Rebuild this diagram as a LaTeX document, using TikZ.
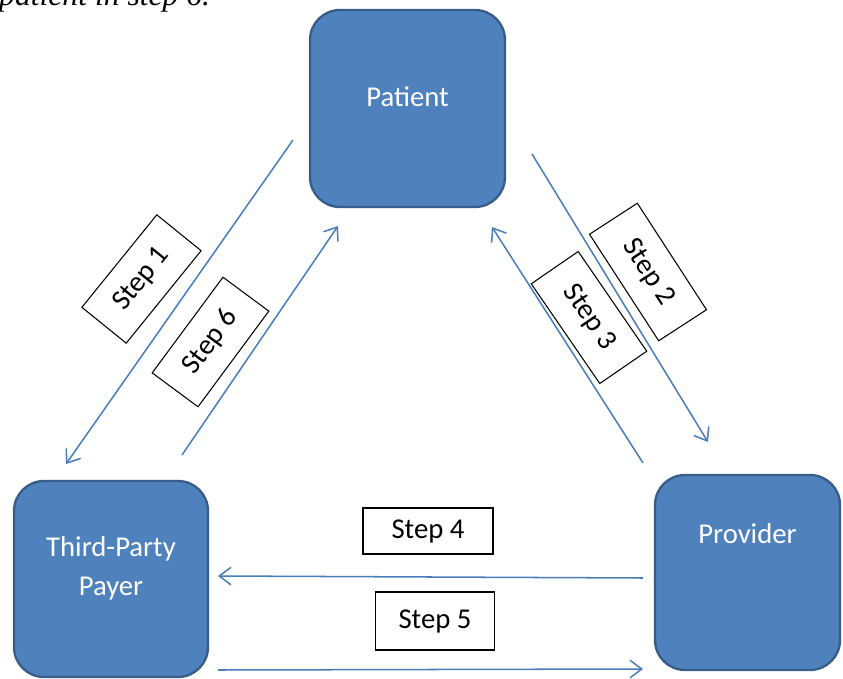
\documentclass[tikz,border=0pt]{standalone}
\usepackage{fontspec}
\setmainfont{Carlito}
\newfontfamily\notefont{Liberation Serif}
\usetikzlibrary{arrows.meta}

\definecolor{boxblue}{HTML}{4F81BD}
\definecolor{boxedge}{HTML}{385D8A}
\definecolor{flowblue}{HTML}{4A7EBB}

\tikzset{
  party/.style={rectangle, rounded corners=0.9cm, draw=boxedge, fill=boxblue, line width=2pt},
  partytext/.style={text=white, align=center, font=\fontsize{24.5}{33}\selectfont},
  stepbox/.style={rectangle, draw=black, fill=white, line width=0.9pt, inner sep=0pt,
    minimum width=3.57cm, minimum height=1.71cm, font=\fontsize{24.5}{29}\selectfont},
  flow/.style={draw=flowblue, line width=1.3pt, -{Straight Barb[length=10pt,width=15pt]}}
}

\begin{document}
\begin{tikzpicture}[x=0.03cm, y=-0.03cm]
    \useasboundingbox (0,0) rectangle (843,679);

    % caption text cut off at the top
    \node[anchor=base west, inner sep=0pt, font=\notefont\itshape\fontsize{27}{31}\selectfont] (note) at (-1,5.5) {patient in step 6.};

    % the three parties
    \node[party, minimum width=5.85cm, minimum height=5.91cm] (patient) at (407.5,108.5) {};
    \node[party, minimum width=5.82cm, minimum height=5.88cm] (payer) at (111,579) {};
    \node[party, minimum width=5.55cm, minimum height=5.85cm] (provider) at (747.5,572.5) {};

    \node[partytext] (patient_txt) at ([yshift=0.345cm]patient.center) {Patient};
    \node[partytext] (payer_txt) at ([yshift=0.315cm]payer.center) {Third-Party\\Payer};
    \node[partytext] (provider_txt) at ([yshift=1.155cm]provider.center) {Provider};

    % arrow ends
    \coordinate (s1_from) at (293,140);
    \coordinate (s1_to) at (66,464);
    \coordinate (s6_from) at (182,455);
    \coordinate (s6_to) at (338,226);
    \coordinate (s2_from) at (532,154);
    \coordinate (s2_to) at (708,442);
    \coordinate (s3_from) at (643,463);
    \coordinate (s3_to) at (492,227);
    \coordinate (s4_from) at (643,578);
    \coordinate (s4_to) at (218,576);
    \coordinate (s5_from) at (218,670);
    \coordinate (s5_to) at (643,669);

    \draw[flow] (s1_from) -- (s1_to) ;
    \draw[flow] (s6_from) -- (s6_to) ;
    \draw[flow] (s2_from) -- (s2_to) ;
    \draw[flow] (s3_from) -- (s3_to) ;
    \draw[flow] (s4_from) -- (s4_to) ;
    \draw[flow] (s5_from) -- (s5_to) ;

    % step labels
    \node[stepbox, rotate=51] (step1) at (141.5,279) {Step 1};
    \node[stepbox, rotate=53.5] (step6) at (210.5,342) {Step 6};
    \node[stepbox, rotate=-57, minimum width=3.81cm] (step2) at (648,272) {Step 2};
    \node[stepbox, rotate=-55.5, minimum width=3.63cm] (step3) at (589,317.5) {Step 3};
    \node[stepbox, minimum width=3.9cm, minimum height=1.38cm] (step4) at (428,531) {Step 4};
    \node[stepbox, minimum height=1.74cm] (step5) at (435,621) {Step 5};
\end{tikzpicture}
\end{document}
